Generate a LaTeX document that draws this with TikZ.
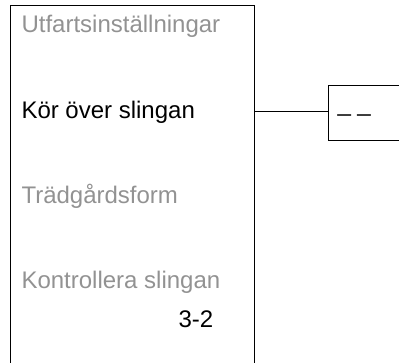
\documentclass[tikz,border=0pt]{standalone}
\usepackage{fontspec}
\setmainfont{Liberation Sans}
\definecolor{MenuGrey}{HTML}{929292}
\usepackage{tikz}
\usetikzlibrary{positioning}

\begin{document}
\begin{tikzpicture}[x=1pt, y=-1pt, line width=1pt,
    item/.style={anchor=base west, inner sep=0pt, font=\fontsize{24}{28}\selectfont},
    dimmed/.style={item, text=MenuGrey}]
  \useasboundingbox (0,0) rectangle (399,362);
  \clip (0,0) rectangle (399,362);
  % menu panel, cut off at the bottom
  \node[draw, anchor=north west, minimum width=244pt, minimum height=380pt,
        inner sep=0pt] (menu) at (10,5) {};
  \node[dimmed] (exit) at (21,32) {Utfartsinställningar};
  \node[item] (drive) at (21,118) {Kör över slingan};
  \node[dimmed] (garden) at (21,203) {Trädgårdsform};
  \node[dimmed] (check) at (21,288) {Kontrollera slingan};
  \node[item] (code) at (178,327) {3-2};
  % value field, cut off at the right
  \node[draw, anchor=north west, minimum width=100pt, minimum height=55pt,
        inner sep=0pt] (field) at (328,85) {};
  \node[item] (value) at (337,111) {\_\ \_};
  \coordinate (tap) at (menu.east |- 0,111);
  \draw (tap) -- (tap -| field.west);
\end{tikzpicture}
\end{document}
